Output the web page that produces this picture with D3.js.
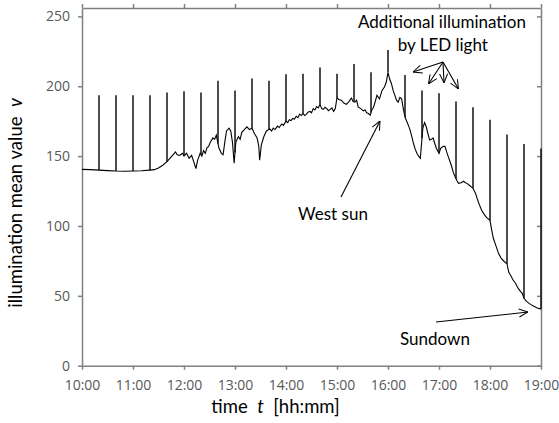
<!DOCTYPE html>
<html>
<head>
<meta charset="utf-8">
<script src="https://cdn.jsdelivr.net/npm/d3@7"></script>
<style>
body { margin: 0; background: #fff; }
svg { display: block; }
.tick text { font-family: "Open Sans", sans-serif; font-size: 14px; fill: #595959; }
.axis path, .axis line { stroke: #808080; stroke-width: 1.5; }
.note { font-family: Lato, "Open Sans", sans-serif; font-size: 17px; fill: #000; white-space: pre; }
.title { font-family: Lato, "Open Sans", sans-serif; font-size: 18.5px; fill: #000; white-space: pre; }
</style>
</head>
<body>
<script>
// baseline of the illumination mean value (time hh:mm, value)
var baseTimes = ["10:00","10:10","10:20","10:30","10:40","10:50","11:00","11:10","11:20","11:25",
  "11:30","11:35","11:40","11:45","11:50","11:52","11:55","11:58","12:00","12:03","12:06","12:09",
  "12:12","12:14","12:16","12:19","12:21","12:23","12:25","12:27","12:29","12:31","12:34","12:36","12:38",
  "12:41","12:44","12:46","12:48","12:50","12:53","12:55","12:57","12:59","13:01","13:04","13:06","13:08",
  "13:11","13:14","13:17","13:20","13:23","13:26","13:28","13:29","13:31","13:34","13:37","13:41","13:43",
  "13:45","13:47","13:50","13:52","13:55","13:57",
  "14:00","14:02","14:04","14:06","14:08","14:10","14:12","14:14","14:16","14:18","14:20","14:22","14:24",
  "14:26","14:28","14:30","14:32","14:34","14:36","14:38","14:40","14:42","14:44","14:46","14:48","14:50",
  "14:52","14:54","14:56","14:58","15:00","15:02","15:05","15:08","15:11","15:14","15:17","15:19","15:21",
  "15:23","15:25","15:28","15:31","15:33","15:35","15:37","15:39","15:41","15:43","15:45","15:47","15:50",
  "15:53","15:56","15:58","16:00",
  "16:02","16:04","16:06","16:08","16:10","16:12","16:14","16:16","16:18","16:20","16:22","16:24",
  "16:26","16:28","16:30","16:32","16:34","16:36","16:38","16:41","16:43","16:45","16:47","16:49",
  "16:51","16:53","16:55","16:57","17:00","17:02","17:05","17:07","17:09","17:11","17:13","17:15",
  "17:17","17:19","17:21","17:23","17:26","17:29","17:31","17:33","17:36","17:38","17:40","17:43",
  "17:45","17:47","17:50","17:53","17:56","18:00","18:02","18:04","18:06","18:08","18:10","18:13",
  "18:17","18:20","18:22","18:24","18:27","18:30","18:33","18:36","18:38","18:40","18:43","18:46",
  "18:50","18:55","19:00"];
var baseValues = [140.5,140.3,140,139.6,139.3,139.2,139.3,139.5,140,140.3,
  141.5,143.5,146,149.5,153,151,150.5,152,150,152,148.5,150.5,
  145,141,147,152,150,154,152,156,157,160,163,162,165,
  156,152,151,160,168,170,168,160,145,160,164,162,167,
  169,171,169,170,166,163,157,147,158,164,168,169.5,168,
  170,169,171.5,170.5,173,172,
  175,174,176,175.5,177,176.5,178.5,177.5,180,179,180.5,179,180,
  181.5,182,181,184,183,185.5,184.5,187,184,183.5,185,184,182.5,
  183.5,184.5,182,184,192,190.5,190,188,187,189,191.5,189,188.6,
  190,185,184,182.4,183,181,180.5,179.3,183,185,189,193.6,191,
  197,199.6,203,210,
  205,202,197,193.6,190,188.6,192,191,184,178,175,172,
  168.6,164,159,155,152,150,148.4,170,174,171,166,161.5,
  162,163,159,155.5,152,155.5,157,157,153,149.5,146,142.4,
  138,135.2,132.5,130.5,131,132,131,130.5,129,128,127,123.3,
  119.5,116,111.4,108.5,106,104,97,91,87.5,84,80.4,77,
  74.4,73,67,64.9,61.5,59,55.5,53,51.8,48.2,46,44.6,
  43,41.5,40.5];

// LED light pulses every 20 minutes (time, peak value)
var spikeTimes = ["10:20","10:40","11:00","11:20","11:40","12:00","12:20","12:40","13:00","13:20",
  "13:40","14:00","14:20","14:40","15:00","15:20","15:40","16:00","16:20","16:40","17:00","17:20",
  "17:40","18:00","18:20","18:40","19:00"];
var spikePeaks = [193.6,193.6,193.6,193.6,195.5,196.5,195.5,204,197,205.5,
  204,208.5,209,213.4,209,216,210,226,208,197,195,189,
  185,176,165.5,158.6,155.5];

var xTickLabels = ["10:00","11:00","12:00","13:00","14:00","15:00","16:00","17:00","18:00","19:00"];
var yTicks = [0, 50, 100, 150, 200, 250];

var W = 559, H = 423;
var margin = {top: 8, right: 18, bottom: 57.3, left: 82};

function toMin(s) { var p = s.split(":"); return +p[0] * 60 + +p[1]; }

var svg = d3.select("body").append("svg").attr("width", W).attr("height", H);

var x = d3.scaleLinear().domain([600, 1140]).range([margin.left, W - margin.right]);
var y = d3.scaleLinear().domain([0, 256]).range([H - margin.bottom, margin.top]);

var base = baseTimes.map(function(t, i) { return {t: toMin(t), v: baseValues[i]}; });
var baseAt = function(t) {
  var i = d3.bisector(function(d) { return d.t; }).left(base, t);
  if (i <= 0) return base[0].v;
  if (i >= base.length) return base[base.length - 1].v;
  var a = base[i - 1], b = base[i];
  if (b.t === t) return b.v;
  return a.v + (b.v - a.v) * (t - a.t) / (b.t - a.t);
};

// axes
var fmt = function(d) { return xTickLabels[(d - 600) / 60]; };
var xt = d3.range(600, 1141, 60);
svg.append("g").attr("class", "axis")
  .attr("transform", "translate(0," + y(0) + ")")
  .call(d3.axisBottom(x).tickValues(xt).tickFormat(fmt).tickSize(4).tickPadding(10).tickSizeOuter(0));
svg.append("g").attr("class", "axis")
  .attr("transform", "translate(0," + y(256) + ")")
  .call(d3.axisTop(x).tickValues(xt).tickFormat("").tickSize(4).tickSizeOuter(0));
svg.append("g").attr("class", "axis")
  .attr("transform", "translate(" + x(600) + ",0)")
  .call(d3.axisLeft(y).tickValues(yTicks).tickSize(4).tickPadding(8).tickSizeOuter(0));
svg.append("g").attr("class", "axis")
  .attr("transform", "translate(" + x(1140) + ",0)")
  .call(d3.axisLeft(y).tickValues(yTicks).tickFormat("").tickSize(-4).tickSizeOuter(0))
  .selectAll(".tick line").attr("x2", -4);

// baseline curve
var line = d3.line().x(function(d) { return x(d.t); }).y(function(d) { return y(d.v); });
svg.append("path").datum(base)
  .attr("fill", "none").attr("stroke", "#000").attr("stroke-width", 1.1)
  .attr("d", line);

// spikes
svg.selectAll("line.spike")
  .data(spikeTimes.map(function(t, i) { return {t: toMin(t), v: spikePeaks[i]}; }))
  .enter().append("line")
  .attr("class", "spike")
  .attr("x1", function(d) { return x(d.t); })
  .attr("x2", function(d) { return x(d.t); })
  .attr("y1", function(d) { return y(baseAt(d.t)); })
  .attr("y2", function(d) { return y(d.v); })
  .attr("stroke", "#111").attr("stroke-width", 1.5);

// arrow marker
svg.append("defs").append("marker")
  .attr("id", "arr").attr("viewBox", "0 0 10 10")
  .attr("refX", 10).attr("refY", 5)
  .attr("markerWidth", 10).attr("markerHeight", 10)
  .attr("markerUnits", "userSpaceOnUse")
  .attr("orient", "auto")
  .append("path").attr("d", "M1,1 L10,5 L1,9")
  .attr("fill", "none").attr("stroke", "#000").attr("stroke-width", 1);

function arrow(t1, v1, t2, v2) {
  svg.append("line")
    .attr("x1", x(t1)).attr("y1", y(v1)).attr("x2", x(t2)).attr("y2", y(v2))
    .attr("stroke", "#000").attr("stroke-width", 1.1)
    .attr("marker-end", "url(#arr)");
}
function note(t, v, s) {
  svg.append("text").attr("class", "note")
    .attr("x", x(t)).attr("y", y(v))
    .attr("text-anchor", "middle").attr("dominant-baseline", "central")
    .text(s);
}

note(1023.5, 246, "Additional illumination");
note(1024.5, 229.6, "by LED light");
arrow(1024.7, 217.4, 989.4, 210.2);
arrow(1024.7, 217.4, 1007.6, 201.6);
arrow(1024.7, 217.4, 1025.9, 202.4);
arrow(1024.7, 217.4, 1042.9, 198);

note(895.3, 108.6, "West sun");
arrow(904.7, 120.8, 950.6, 175.2);

note(1015.3, 19.8, "Sundown");
arrow(1016.5, 31.3, 1124.7, 38.4);

// axis titles
var xt2 = svg.append("text").attr("class", "title")
  .attr("x", 275.5).attr("y", 406)
  .attr("text-anchor", "middle").attr("dominant-baseline", "central");
xt2.append("tspan").text("time  ");
xt2.append("tspan").attr("font-style", "italic").text("t");
xt2.append("tspan").text("  [hh:mm]");

var yt = svg.append("text").attr("class", "title")
  .attr("transform", "translate(15,203) rotate(-90)")
  .attr("text-anchor", "middle").attr("dominant-baseline", "central");
yt.append("tspan").text("illumination mean value  ");
yt.append("tspan").attr("font-style", "italic").text("v");
</script>
</body>
</html>
